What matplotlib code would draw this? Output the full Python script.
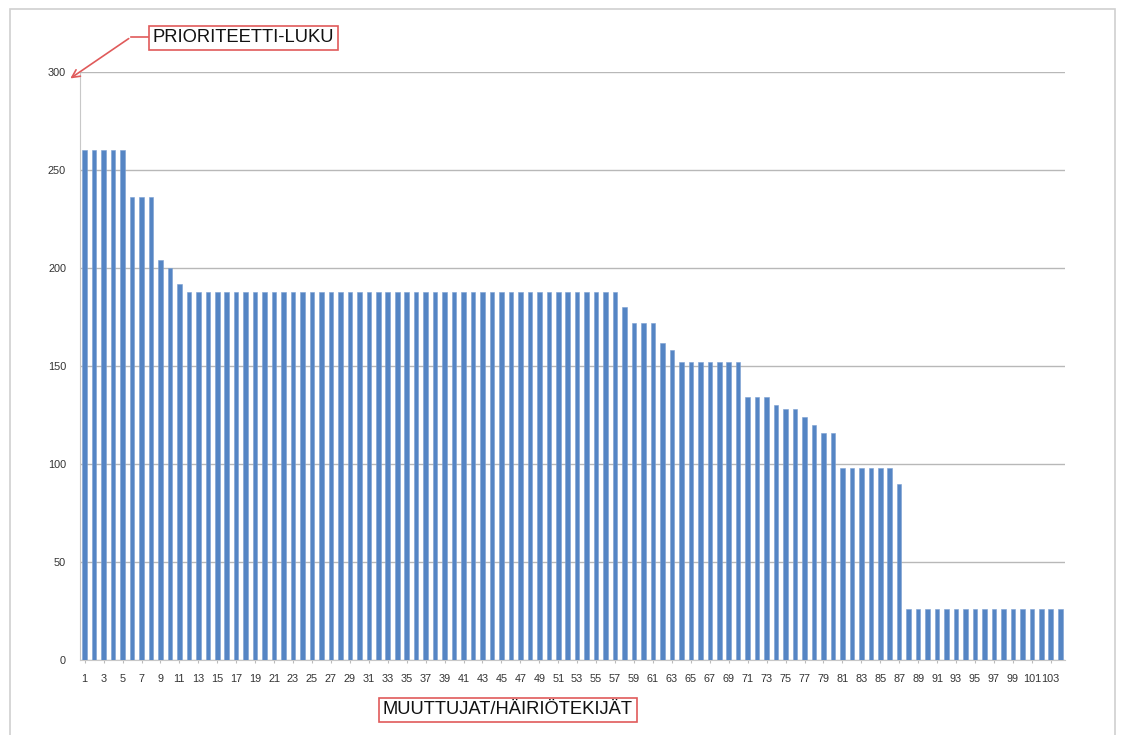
import numpy as np
import matplotlib
matplotlib.use("Agg")
import matplotlib.pyplot as plt
from matplotlib.patches import Rectangle

plt.rcParams['font.family'] = ['Liberation Sans', 'DejaVu Sans']

# prioriteettiluvut muuttujittain (1..104)
values = ([260] * 5 + [236] * 3 + [204, 200, 192] + [188] * 46 + [180] + [172] * 3
          + [162, 158] + [152] * 7 + [134] * 3 + [130, 128, 128, 124, 120, 116, 116]
          + [98] * 6 + [90] + [26] * 17)
positions = np.arange(1, len(values) + 1)
tick_pos = positions[::2]
tick_labels = [str(p) for p in tick_pos]
y_ticks = [0, 50, 100, 150, 200, 250, 300]

fig = plt.figure(figsize=(11.26, 7.35), dpi=100)
ax = fig.add_axes([0.0710, 0.1020, 0.8748, 0.8000])

ax.bar(positions, values, width=0.48, color='#5585c4', edgecolor='#7ba0d2', linewidth=0.4, zorder=3)

ax.set_xlim(0.5, len(values) + 0.5)
ax.set_ylim(0, 300)
ax.set_yticks(y_ticks)
ax.set_xticks(tick_pos)
ax.set_xticklabels(tick_labels, fontsize=7.8, color='#333333')
ax.tick_params(axis='y', labelsize=7.8, labelcolor='#333333', length=0, pad=10)
ax.tick_params(axis='x', length=2, color='#bbbbbb', pad=8)
ax.yaxis.grid(True, color='#b8b8b8', linewidth=1.0, zorder=0)

for side in ['top', 'right']:
    ax.spines[side].set_visible(False)
ax.spines['left'].set_color('#c8c8c8')
ax.spines['bottom'].set_color('#c8c8c8')

# ulkokehys
fig.patches.append(Rectangle((10 / 1126, -0.01), 1105 / 1126, 0.998, transform=fig.transFigure,
                             fill=False, edgecolor='#d0d0d0', linewidth=1.2))

# akselien otsikot laatikoissa
box = dict(boxstyle='square,pad=0.2', facecolor='white', edgecolor='#e05a5a', linewidth=1.2)
fig.text(153 / 1126, 1 - 38 / 735, 'PRIORITEETTI-LUKU', fontsize=13.2, color='#111111',
         va='center', ha='left', bbox=box)
fig.text(383 / 1126, 1 - 710 / 735, 'MUUTTUJAT/HÄIRIÖTEKIJÄT', fontsize=13.2, color='#111111',
         va='center', ha='left', bbox=box)

# nuoli y-akselin otsikosta
fig.add_artist(plt.Line2D([148 / 1126, 131 / 1126], [1 - 37 / 735, 1 - 37 / 735],
                          color='#e05a5a', linewidth=1.2, transform=fig.transFigure))
ax.annotate('', xy=(68 / 1126, 1 - 80 / 735), xycoords='figure fraction',
            xytext=(131 / 1126, 1 - 37 / 735), textcoords='figure fraction',
            arrowprops=dict(arrowstyle='->', color='#e05a5a', lw=1.2, mutation_scale=14),
            annotation_clip=False)

fig.savefig('out.png', dpi=100)
